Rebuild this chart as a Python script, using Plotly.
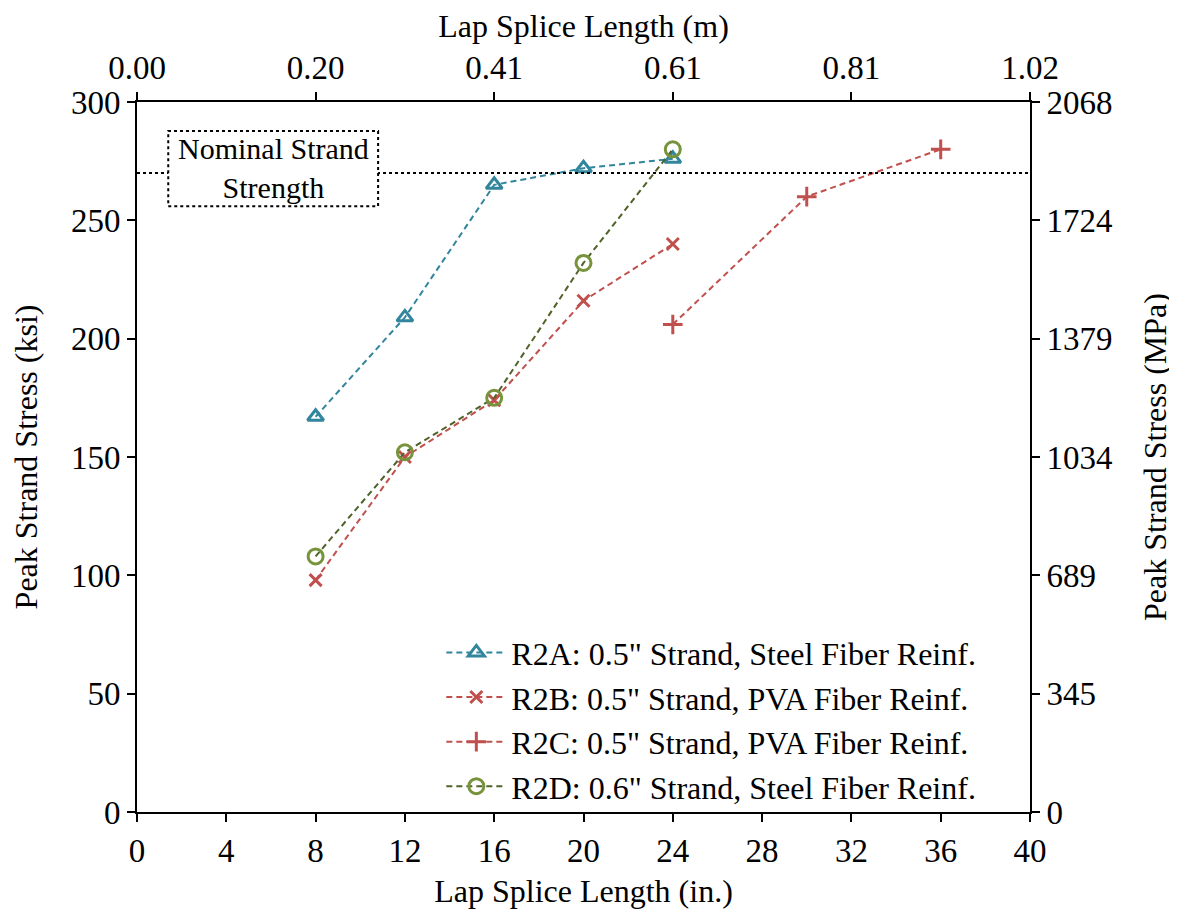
import plotly.graph_objects as go

# Data (lap splice length in inches, peak strand stress in ksi)
r2a_x = [8, 12, 16, 20, 24]
r2a_y = [167, 209, 265, 272, 276]
r2b_x = [8, 12, 16, 20, 24]
r2b_y = [98, 150, 174, 216, 240]
r2c_x = [24, 30, 36]
r2c_y = [206, 260, 280]
r2d_x = [8, 12, 16, 20, 24]
r2d_y = [108, 152, 175, 232, 280]
nominal_strength = 270

x_ticks_in = [0, 4, 8, 12, 16, 20, 24, 28, 32, 36, 40]
y_ticks_ksi = [0, 50, 100, 150, 200, 250, 300]
top_tick_labels = ["0.00", "0.20", "0.41", "0.61", "0.81", "1.02"]
right_tick_labels = ["0", "345", "689", "1034", "1379", "1724", "2068"]

IN_TO_M = 0.0254
KSI_TO_MPA = 6.894757

FONT = "Liberation Serif, Times New Roman, serif"
FS = 32
FT = 33
TEAL = "#31859C"
RED = "#C0504D"
OLIVE_LINE = "#4F6228"
OLIVE_MK = "#77933C"
DASH = "6px,4px"

fig = go.Figure()

fig.add_trace(go.Scatter(
    x=r2a_x, y=r2a_y, mode="lines+markers",
    name="R2A: 0.5\" Strand, Steel Fiber Reinf.",
    line=dict(color=TEAL, width=2, dash=DASH),
    marker=dict(symbol="triangle-up-open", size=14, color=TEAL, line=dict(width=3, color=TEAL)),
))
fig.add_trace(go.Scatter(
    x=r2b_x, y=r2b_y, mode="lines+markers",
    name="R2B: 0.5\" Strand, PVA Fiber Reinf.",
    line=dict(color=RED, width=2, dash=DASH),
    marker=dict(symbol="x-thin", size=12, color=RED, line=dict(width=3, color=RED)),
))
fig.add_trace(go.Scatter(
    x=r2c_x, y=r2c_y, mode="lines+markers",
    name="R2C: 0.5\" Strand, PVA Fiber Reinf.",
    line=dict(color=RED, width=2, dash=DASH),
    marker=dict(symbol="cross-thin", size=14, color=RED, line=dict(width=3, color=RED)),
))
fig.add_trace(go.Scatter(
    x=r2d_x, y=r2d_y, mode="lines+markers",
    name="R2D: 0.6\" Strand, Steel Fiber Reinf.",
    line=dict(color=OLIVE_LINE, width=2, dash=DASH),
    marker=dict(symbol="circle-open", size=15, color=OLIVE_MK, line=dict(width=3, color=OLIVE_MK)),
))

# invisible trace to activate secondary axes
fig.add_trace(go.Scatter(
    x=[x_ticks_in[0] * IN_TO_M, x_ticks_in[-1] * IN_TO_M],
    y=[y_ticks_ksi[0] * KSI_TO_MPA, y_ticks_ksi[-1] * KSI_TO_MPA],
    xaxis="x2", yaxis="y2", mode="markers",
    marker=dict(opacity=0), showlegend=False, hoverinfo="skip",
))

x_range = [x_ticks_in[0], x_ticks_in[-1]]
y_range = [y_ticks_ksi[0], y_ticks_ksi[-1]]
top_vals = [v * IN_TO_M for v in x_ticks_in[::2]]
right_vals = [v * KSI_TO_MPA for v in y_ticks_ksi]

axis_common = dict(
    showline=True, linecolor="black", linewidth=2, mirror=False,
    ticks="outside", ticklen=8, tickwidth=1.5, tickcolor="black",
    showgrid=False, zeroline=False, automargin=False,
    tickfont=dict(family=FONT, size=FT, color="black"),
)

fig.update_layout(
    width=1177, height=913,
    paper_bgcolor="white", plot_bgcolor="white",
    margin=dict(l=129, r=155, t=94, b=109),
    font=dict(family=FONT, size=FS, color="black"),
    xaxis=dict(range=x_range, tickvals=x_ticks_in,
               title=dict(text="Lap Splice Length (in.)", font=dict(family=FONT, size=FS), standoff=12),
               **axis_common),
    yaxis=dict(range=y_range, tickvals=y_ticks_ksi,
               title=dict(text="Peak Strand Stress (ksi)", font=dict(family=FONT, size=FS), standoff=25),
               **axis_common),
    xaxis2=dict(range=[x_range[0] * IN_TO_M, x_range[1] * IN_TO_M], tickvals=top_vals, ticktext=top_tick_labels,
                overlaying="x", side="top", anchor="y",
                title=dict(text="Lap Splice Length (m)", font=dict(family=FONT, size=FS), standoff=12),
                **axis_common),
    yaxis2=dict(range=[y_range[0] * KSI_TO_MPA, y_range[1] * KSI_TO_MPA], tickvals=right_vals, ticktext=right_tick_labels,
                overlaying="y", side="right", anchor="x",
                title=dict(text="Peak Strand Stress (MPa)", font=dict(family=FONT, size=FS), standoff=32),
                **axis_common),
    legend=dict(x=0.9455, xanchor="right", y=-0.003, yanchor="bottom",
                bgcolor="rgba(255,255,255,0)", font=dict(family=FONT, size=FS),
                itemwidth=60, tracegroupgap=0),
    showlegend=True,
)

# Nominal strength line
fig.add_shape(type="line", xref="x", yref="y", x0=x_range[0], x1=x_range[1],
              y0=nominal_strength, y1=nominal_strength,
              line=dict(color="black", width=2, dash="dot"))
# annotation box
fig.add_shape(type="rect", xref="x", yref="y", x0=1.4, x1=10.8, y0=256, y1=287.7,
              line=dict(color="black", width=2, dash="dot"), fillcolor="white")
fig.add_annotation(x=6.1, y=272, xref="x", yref="y", text="Nominal Strand<br>Strength",
                   showarrow=False, font=dict(family=FONT, size=30, color="black"), align="center")

fig.write_html("out.html")
